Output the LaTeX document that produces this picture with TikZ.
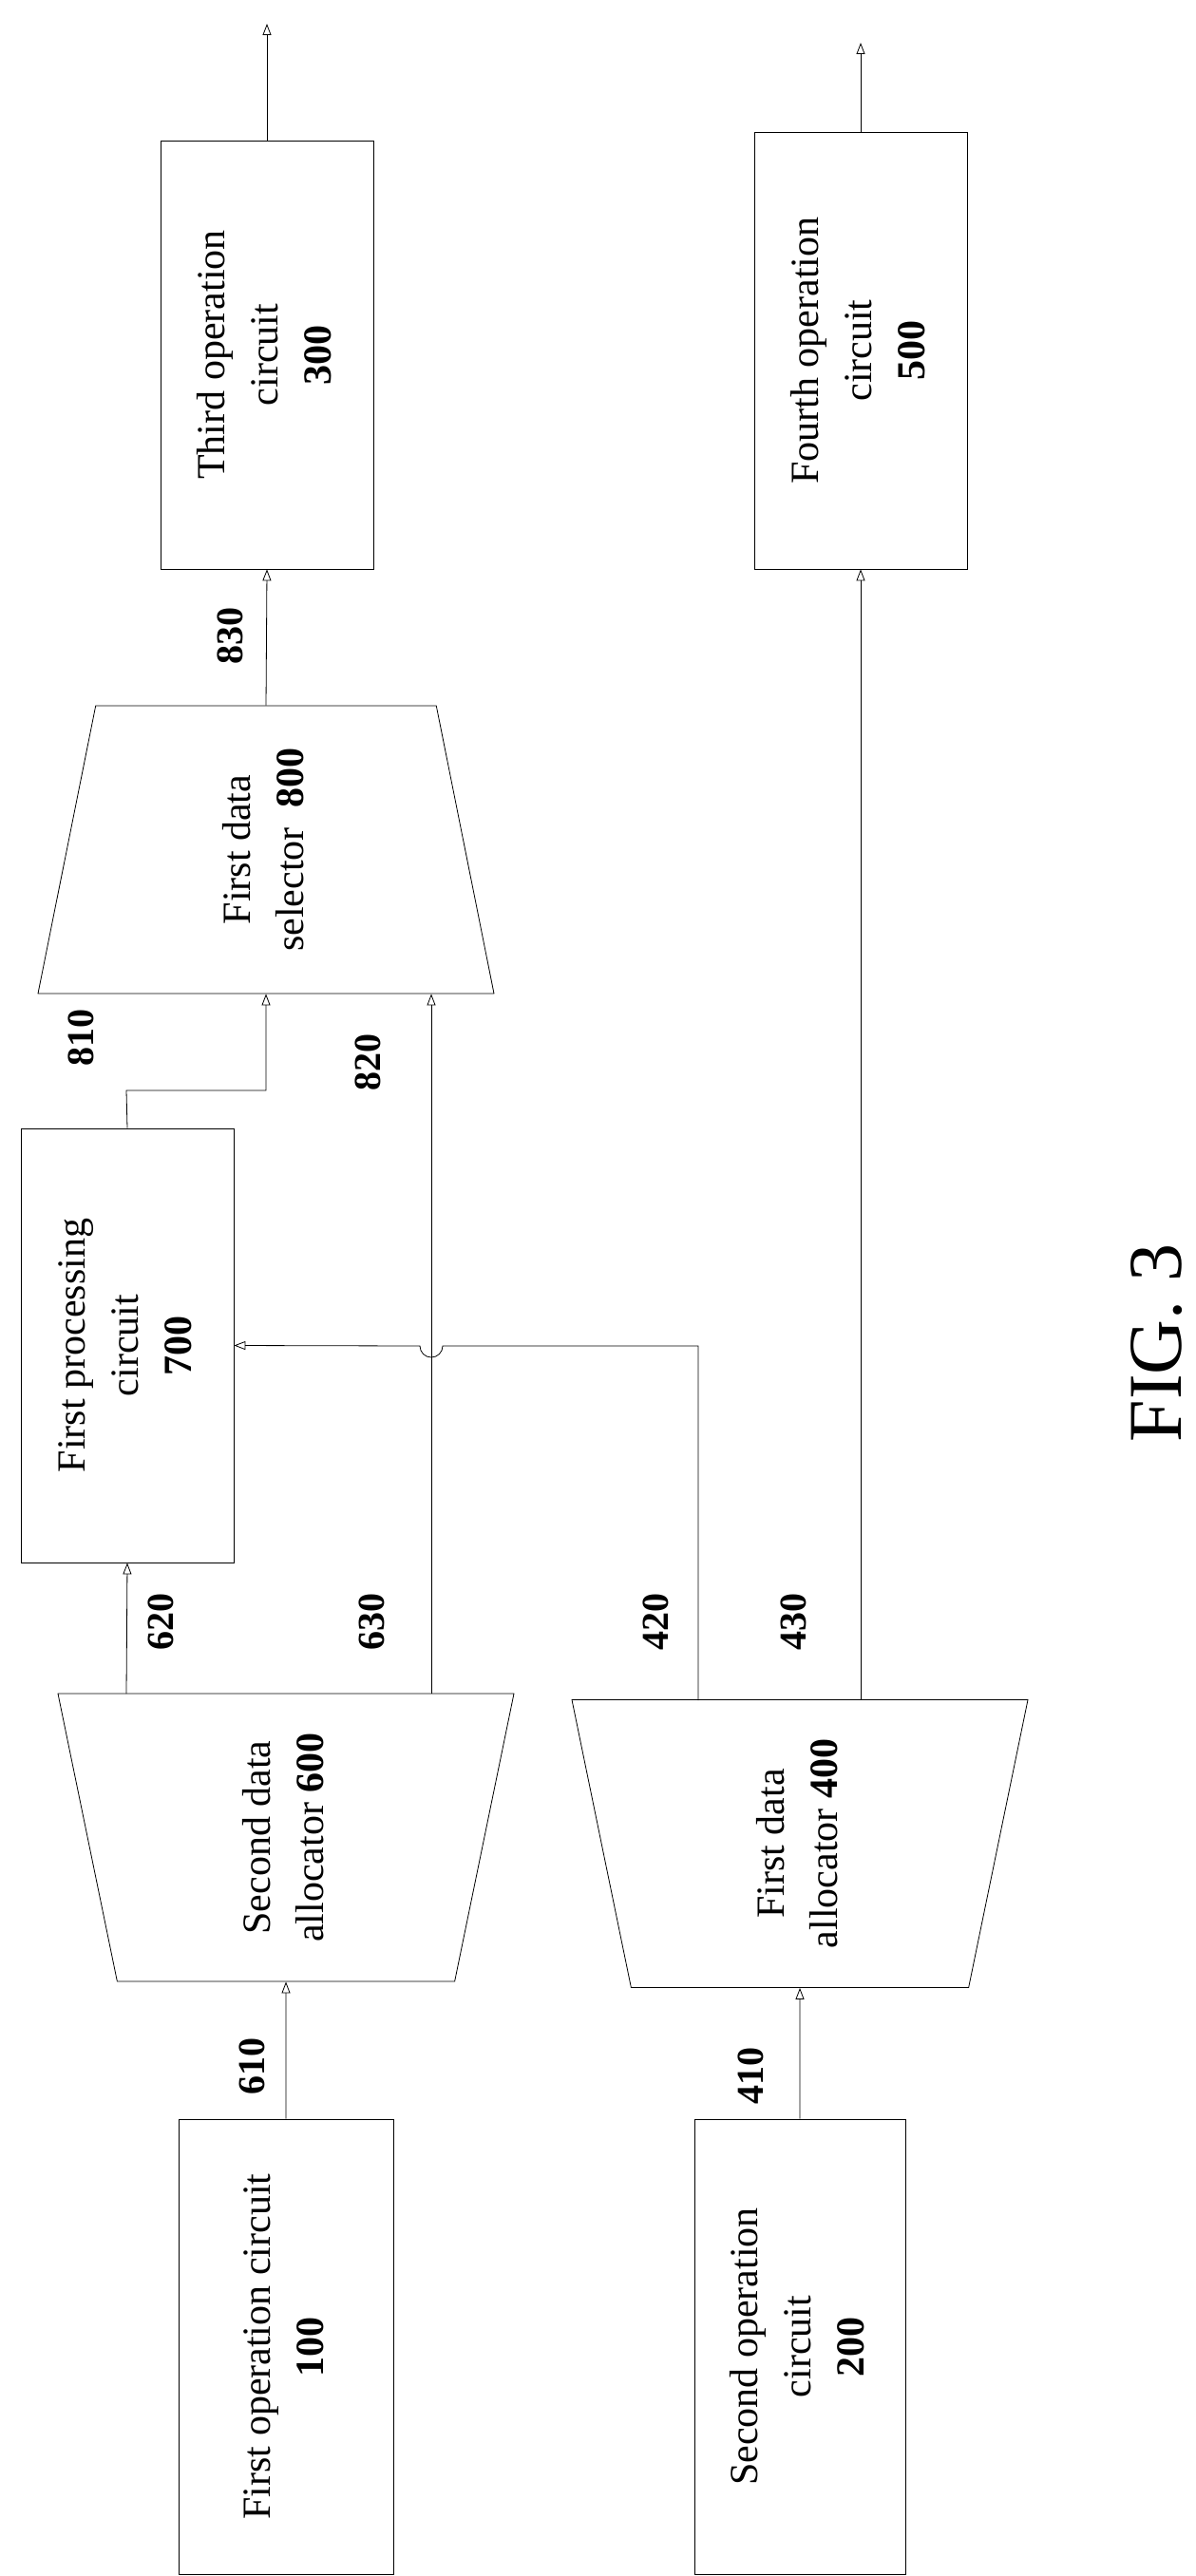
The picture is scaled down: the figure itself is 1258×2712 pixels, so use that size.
\documentclass[tikz,border=0pt]{standalone}
\usepackage{fontspec}
\setmainfont{Liberation Serif}
\usetikzlibrary{shapes.geometric,arrows.meta}
\newcommand{\vtext}[1]{\rotatebox{90}{\begin{tabular}{@{}c@{}}#1\end{tabular}}}
\begin{document}
\begin{tikzpicture}[x=0.5pt,y=-0.5pt,
	box/.style={rectangle, draw=black, inner sep=0pt, font=\fontsize{21}{28}\selectfont},
	mux/.style={trapezium, draw=black, trapezium stretches body, trapezium angle=74.2,
		minimum width=240pt, minimum height=151.5pt, inner sep=0pt, font=\fontsize{21}{28}\selectfont},
	num/.style={font=\fontsize{20}{24}\selectfont\bfseries, rotate=90, inner sep=0pt},
	arr/.style={-{Triangle[open,length=6pt,width=4.5pt]}}]
	\useasboundingbox (0,0) rectangle (1258,2712);
	% blocks
	\node[box, minimum width=112pt, minimum height=225.5pt] at (281,373.5) (c300) {\vtext{Third operation\\circuit\\\textbf{300}}};
	\node[box, minimum width=112pt, minimum height=230pt] at (906,369) (c500) {\vtext{Fourth operation\\circuit\\\textbf{500}}};
	\node[mux] at (280,894.5) (s800) {\vtext{First data\\selector \ \textbf{800}}};
	\node[box, minimum width=112pt, minimum height=228.5pt] at (134,1416.5) (p700) {\vtext{First processing\\circuit\\\textbf{700}}};
	\node[mux, shape border rotate=180] at (301,1934.5) (a600) {\vtext{Second data\\allocator \textbf{600}}};
	\node[mux, shape border rotate=180] at (842,1941) (a400) {\vtext{First data\\allocator \textbf{400}}};
	\node[box, minimum width=113pt, minimum height=239.5pt] at (301,2470.5) (c100) {\vtext{First operation circuit\\\textbf{100}}};
	\node[box, minimum width=111pt, minimum height=239.5pt] at (842,2470.5) (c200) {\vtext{Second operation\\circuit\\\textbf{200}}};
	% ports
	\coordinate (o300) at (281,25);
	\coordinate (o500) at (906,45);
	\coordinate (p620) at (133,1783);
	\coordinate (p630) at (454,1783);
	\coordinate (p420) at (735,1790);
	\coordinate (p430) at (906,1790);
	% connectors
	\draw[arr] (c100.north) -- (a600.south);
	\draw[arr] (c200.north) -- (a400.south);
	\draw[arr] (p620) -- (p700.south);
	\draw[arr] (p630) -- (s800.south -| p630);
	\draw[arr] (p700.north) -- (133,1148) -| (s800.south);
	\draw[arr] (p420) |- (466,1417) arc (0:180:12) -- (p700.east);
	\draw[arr] (p430) -- (c500.south);
	\draw[arr] (s800.north) -- (c300.south);
	\draw[arr] (c300.north) -- (o300);
	\draw[arr] (c500.north) -- (o500);
	% labels
	\node[num] at (265,2175) (l610) {610};
	\node[num] at (790,2185) (l410) {410};
	\node[num] at (169,1707) (l620) {620};
	\node[num] at (391,1707) (l630) {630};
	\node[num] at (690,1707) (l420) {420};
	\node[num] at (835,1707) (l430) {430};
	\node[num] at (85,1092) (l810) {810};
	\node[num] at (387,1118) (l820) {820};
	\node[num] at (242,669) (l830) {830};
	\node[rotate=90, font=\fontsize{40}{48}\selectfont] at (1218,1414) (fig) {FIG. 3};
\end{tikzpicture}
\end{document}
